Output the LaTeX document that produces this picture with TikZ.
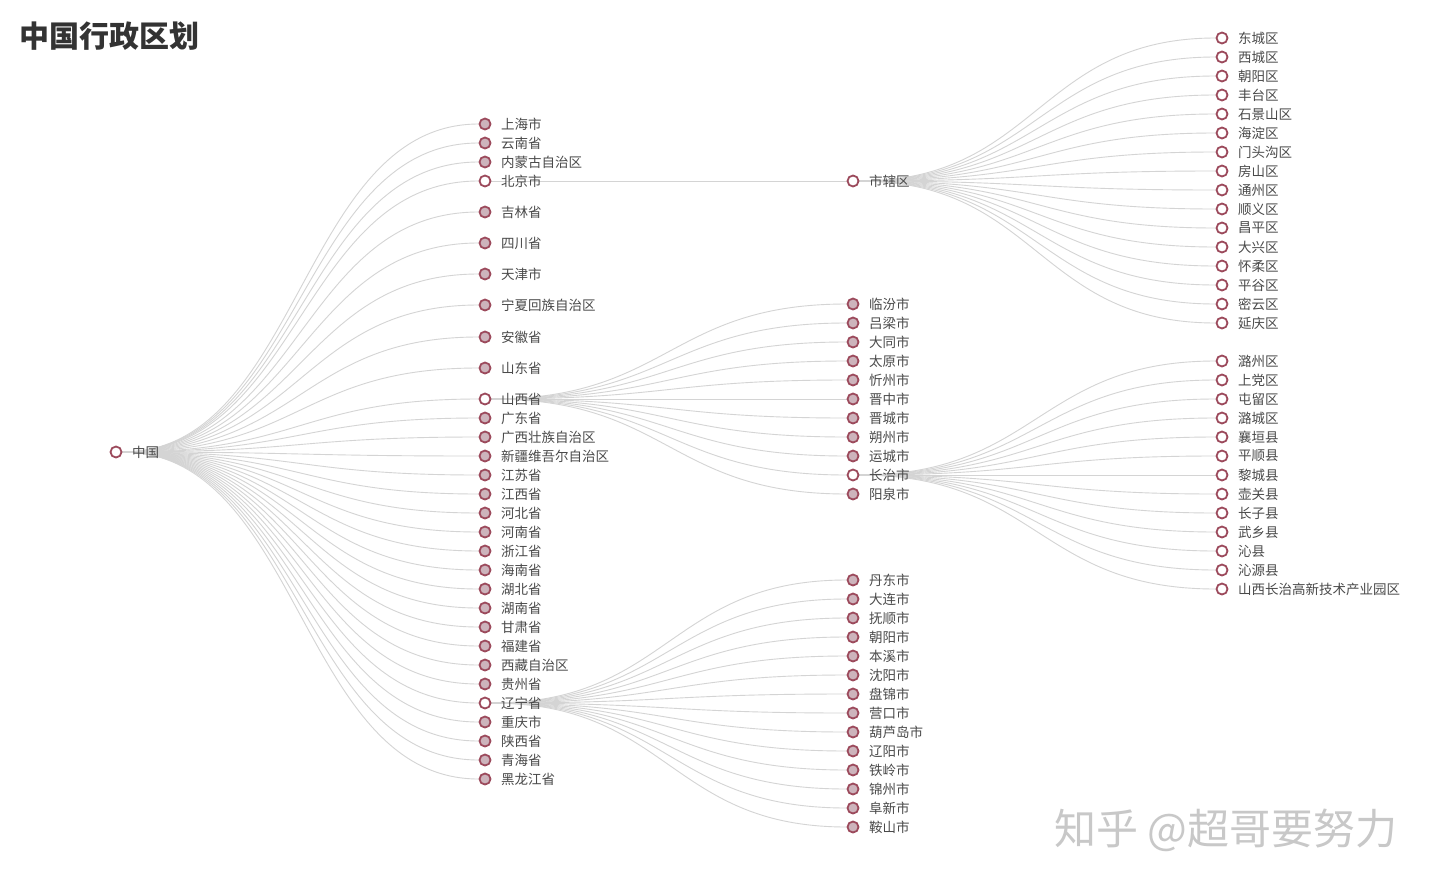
\documentclass[tikz,border=0pt]{standalone}
\usepackage{fontspec}
\newfontfamily\cjk{Noto Sans CJK SC}
\definecolor{ring}{HTML}{9C4A5C}
\definecolor{shutfill}{HTML}{CDB4BC}
\definecolor{edgegray}{HTML}{D4D4D4}
\definecolor{labelgray}{HTML}{4A4A4A}
\definecolor{titlegray}{HTML}{333333}
\definecolor{markgray}{HTML}{C8C8C8}
\pgfdeclarelayer{bg}
\pgfsetlayers{bg,main}
\tikzset{
  edge/.style={draw=edgegray, line width=0.9pt},
  opennode/.style={circle, draw=ring, line width=1.8pt, fill=white, minimum size=11pt, inner sep=0pt},
  shut/.style={opennode, fill=shutfill},
  lbl/.style={font=\cjk\fontsize{13.5}{15}\selectfont, text=labelgray, anchor=west, inner sep=0pt},
}
\begin{document}
\begin{tikzpicture}[x=1pt,y=-1pt]
\begin{pgfonlayer}{bg}
\fill[white] (0,0) rectangle (1440,889);
\end{pgfonlayer}
\useasboundingbox (0,0) rectangle (1440,889);

\node[font=\cjk\bfseries\fontsize{30}{35}\selectfont, text=titlegray, anchor=west, inner sep=0pt] (title) at (19,36) {中国行政区划};

\coordinate (m1) at (300.5,0);
\coordinate (m2) at (669,0);
\coordinate (m3) at (1037.5,0);

\node[opennode] (root) at (116,452) {};
\node[lbl] (roott) at (132,452) {中国};

% provinces
\foreach \y/\t/\s [count=\i] in {124/上海市/shut, 143/云南省/shut, 162/内蒙古自治区/shut, 181/北京市/opennode, 212/吉林省/shut, 243/四川省/shut, 274/天津市/shut, 305/宁夏回族自治区/shut, 337/安徽省/shut, 368/山东省/shut, 399/山西省/opennode, 418/广东省/shut, 437/广西壮族自治区/shut, 456/新疆维吾尔自治区/shut, 475/江苏省/shut, 494/江西省/shut, 513/河北省/shut, 532/河南省/shut, 551/浙江省/shut, 570/海南省/shut, 589/湖北省/shut, 608/湖南省/shut, 627/甘肃省/shut, 646/福建省/shut, 665/西藏自治区/shut, 684/贵州省/shut, 703/辽宁省/opennode, 722/重庆市/shut, 741/陕西省/shut, 760/青海省/shut, 779/黑龙江省/shut}{
  \node[\s] (p\i) at (485,\y) {};
  \node[lbl] (p\i t) at (501,\y) {\t};
  \begin{pgfonlayer}{bg}
    \draw[edge] (root) .. controls (root -| m1) and (p\i -| m1) .. (p\i);
  \end{pgfonlayer}
}

% Beijing -> 市辖区
\node[opennode] (bj1) at (853,181) {};
\node[lbl] (bj1t) at (869,181) {市辖区};
\begin{pgfonlayer}{bg}
  \draw[edge] (p4) .. controls (p4 -| m2) and (bj1 -| m2) .. (bj1);
\end{pgfonlayer}

% Shanxi cities
\foreach \y/\t/\s [count=\i] in {304/临汾市/shut, 323/吕梁市/shut, 342/大同市/shut, 361/太原市/shut, 380/忻州市/shut, 399/晋中市/shut, 418/晋城市/shut, 437/朔州市/shut, 456/运城市/shut, 475/长治市/opennode, 494/阳泉市/shut}{
  \node[\s] (sx\i) at (853,\y) {};
  \node[lbl] (sx\i t) at (869,\y) {\t};
  \begin{pgfonlayer}{bg}
    \draw[edge] (p11) .. controls (p11 -| m2) and (sx\i -| m2) .. (sx\i);
  \end{pgfonlayer}
}

% Liaoning cities
\foreach \y/\t [count=\i] in {580/丹东市, 599/大连市, 618/抚顺市, 637/朝阳市, 656/本溪市, 675/沈阳市, 694/盘锦市, 713/营口市, 732/葫芦岛市, 751/辽阳市, 770/铁岭市, 789/锦州市, 808/阜新市, 827/鞍山市}{
  \node[shut] (ln\i) at (853,\y) {};
  \node[lbl] (ln\i t) at (869,\y) {\t};
  \begin{pgfonlayer}{bg}
    \draw[edge] (p27) .. controls (p27 -| m2) and (ln\i -| m2) .. (ln\i);
  \end{pgfonlayer}
}

% Beijing districts
\foreach \y/\t [count=\i] in {38/东城区, 57/西城区, 76/朝阳区, 95/丰台区, 114/石景山区, 133/海淀区, 152/门头沟区, 171/房山区, 190/通州区, 209/顺义区, 228/昌平区, 247/大兴区, 266/怀柔区, 285/平谷区, 304/密云区, 323/延庆区}{
  \node[opennode] (bd\i) at (1222,\y) {};
  \node[lbl] (bd\i t) at (1238,\y) {\t};
  \begin{pgfonlayer}{bg}
    \draw[edge] (bj1) .. controls (bj1 -| m3) and (bd\i -| m3) .. (bd\i);
  \end{pgfonlayer}
}

% Changzhi counties
\foreach \y/\t [count=\i] in {361/潞州区, 380/上党区, 399/屯留区, 418/潞城区, 437/襄垣县, 456/平顺县, 475/黎城县, 494/壶关县, 513/长子县, 532/武乡县, 551/沁县, 570/沁源县, 589/山西长治高新技术产业园区}{
  \node[opennode] (cz\i) at (1222,\y) {};
  \node[lbl] (cz\i t) at (1238,\y) {\t};
  \begin{pgfonlayer}{bg}
    \draw[edge] (sx10) .. controls (sx10 -| m3) and (cz\i -| m3) .. (cz\i);
  \end{pgfonlayer}
}

% watermark
\node[font=\cjk\fontsize{42}{47}\selectfont, text=markgray, anchor=west, inner sep=0pt] (mark) at (1054,830) {知乎 @超哥要努力};
\end{tikzpicture}
\end{document}
